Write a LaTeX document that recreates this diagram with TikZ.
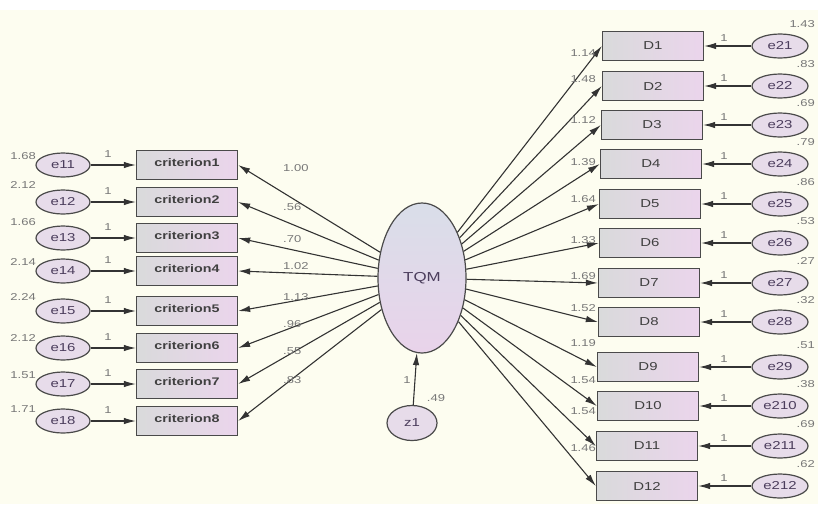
\documentclass[tikz,border=0pt]{standalone}
\usepackage{fontspec}
\setmainfont{Liberation Sans}[FakeStretch=1.3]
\usetikzlibrary{arrows.meta,shapes.geometric}
\definecolor{bg}{HTML}{FDFDF0}
\definecolor{bdr}{HTML}{4A4A4A}
\definecolor{lineC}{HTML}{333333}
\definecolor{boxL}{HTML}{D9DADB}
\definecolor{boxR}{HTML}{EBD5EC}
\definecolor{ovl}{HTML}{E7DCEA}
\definecolor{latT}{HTML}{D9DEE9}
\definecolor{latB}{HTML}{E9D3EA}
\definecolor{txt}{HTML}{404040}
\definecolor{etxt}{HTML}{4B3D5C}
\definecolor{lab}{HTML}{777777}
\begin{document}
\begin{tikzpicture}[x=1pt,y=-1pt,
  obs/.style={draw=bdr, line width=1.3pt, left color=boxL, right color=boxR,
    minimum width=101pt, minimum height=29pt, inner sep=0pt, text=txt},
  crit/.style={obs, font=\bfseries\fontsize{11}{12}\selectfont},
  dbox/.style={obs, font=\fontsize{11.5}{12}\selectfont},
  err/.style={draw=bdr, line width=1.2pt, ellipse, fill=ovl, inner sep=0pt,
    minimum width=54pt, minimum height=24pt, text=etxt,
    font=\fontsize{11.5}{12}\selectfont},
  latent/.style={draw=bdr, line width=1.2pt, ellipse, top color=latT, bottom color=latB,
    inner sep=0pt, minimum width=88pt, minimum height=150pt, text=etxt,
    font=\fontsize{13}{14}\selectfont},
  arr/.style={draw=lineC, line width=1.1pt, -{Latex[length=12pt,width=6.5pt]}},
  small/.style={font=\fontsize{10}{11}\selectfont, text=lab, inner sep=0pt}]
% background
\fill[bg] (0,0) rectangle (818,504);
\fill[white] (0,0) rectangle (818,10);
\useasboundingbox (0,0) rectangle (818,504);

% latent factor and its disturbance
\node[latent] (TQM) at (422,278) {TQM};
\node[err, minimum width=50pt, minimum height=35pt] (z1) at (412,423) {z1};
\draw[arr] (z1) -- (TQM);
\node[small] (z1w) at (407,380) {1};
\node[small] (z1v) at (436,398) {.49};

% left indicators
\foreach \i/\y/\w/\wy/\v/\vy in {
  1/165/1.00/168/1.68/156, 2/202/.56/207/2.12/185, 3/238/.70/239/1.66/222,
  4/271/1.02/266/2.14/262, 5/311/1.13/297/2.24/297, 6/348/.96/324/2.12/338,
  7/384/.55/351/1.51/375, 8/421/.83/380/1.71/409}{
  \node[crit] (c\i) at (187,\y) {\raisebox{5pt}{criterion\i}};
  \node[err] (e1\i) at (63,\y) {e1\i};
  \draw[arr] (e1\i) -- (c\i);
  \draw[arr] (TQM) -- (c\i.east);
  \node[small, anchor=west] (w1\i) at (283,\wy) {\w};
  \node[small, anchor=east] (v1\i) at (36,\vy) {\v};
  \node[small] (o1\i) at (108,\y-11) {1};
}

% right indicators
\foreach \i/\y/\x/\w/\wy/\v in {
  1/46/653/1.14/53/1.43, 2/86/653/1.48/79/.83, 3/125/652/1.12/120/.69,
  4/164/651/1.39/162/.79, 5/204/650/1.64/199/.86, 6/243/650/1.33/240/.53,
  7/283/649/1.69/276/.27, 8/322/649/1.52/308/.32, 9/367/648/1.19/343/.51,
  10/406/648/1.54/380/.38, 11/446/647/1.54/411/.69, 12/486/647/1.46/448/.62}{
  \node[dbox] (d\i) at (\x,\y) {D\i};
  \node[err, minimum width=56pt] (e2\i) at (780,\y) {e2\i};
  \draw[arr] (e2\i) -- (d\i);
  \draw[arr] (TQM) -- (d\i.west);
  \node[small, anchor=east] (w2\i) at (596,\wy) {\w};
  \node[small, anchor=east] (v2\i) at (815,\y-22) {\v};
  \node[small] (o2\i) at (724,\y-8) {1};
}
\end{tikzpicture}
\end{document}
